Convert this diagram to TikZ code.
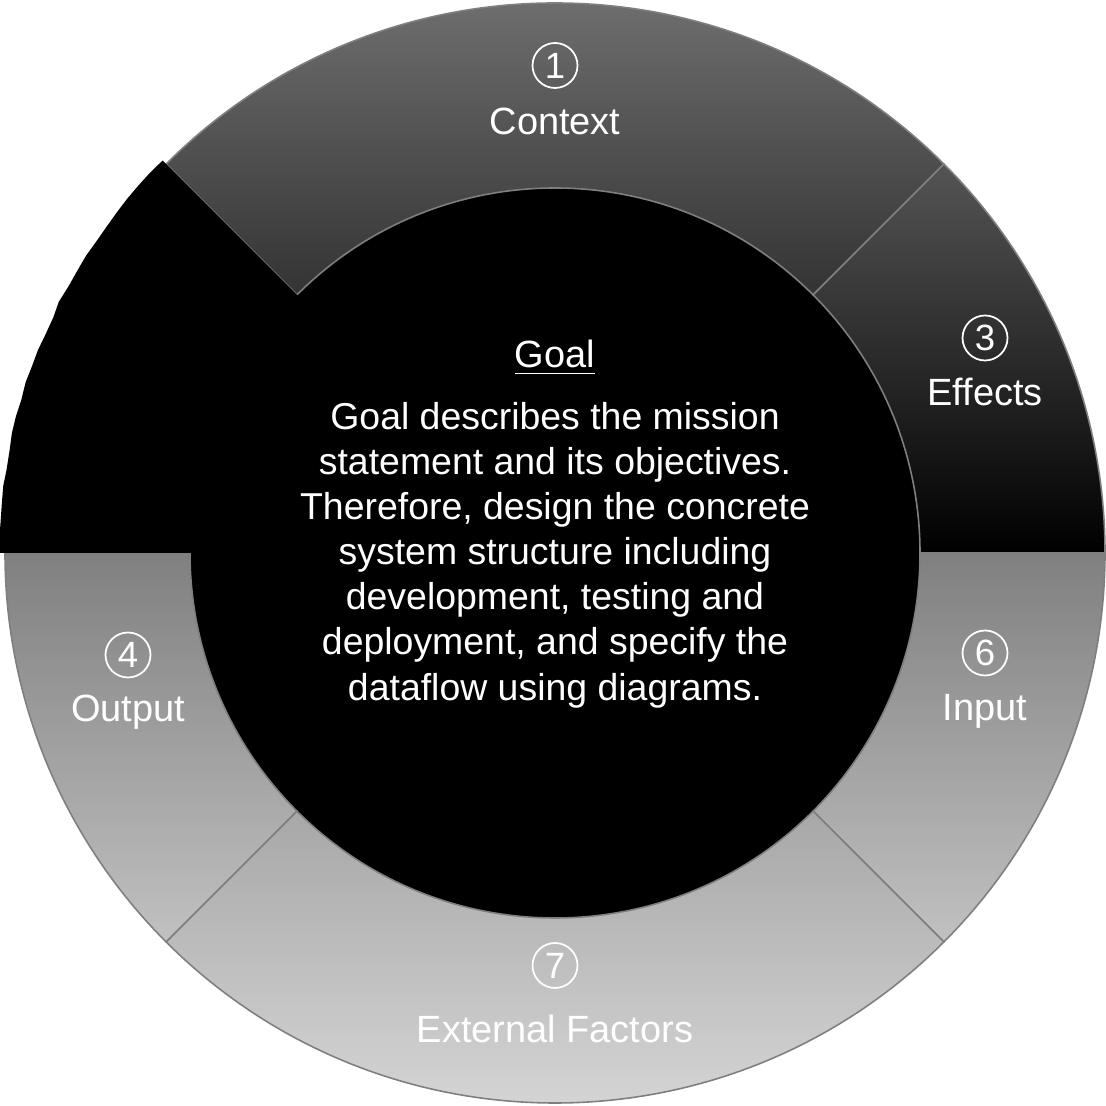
\documentclass[tikz,border=0pt]{standalone}
\usepackage{fontspec}
\setmainfont{Liberation Sans}
\usepackage{xcolor}
\usepackage{tikz}
\usetikzlibrary{calc, decorations.pathmorphing}
\definecolor{ringtop}{HTML}{787878}
\definecolor{ringmid}{HTML}{808080}
\definecolor{ringbottom}{HTML}{DCDCDC}
\definecolor{segline}{HTML}{7F7F7F}
\tikzset{
  upperseg/.style={
    draw=segline,
    line width=0.45pt,
    path picture={\shade[top color=ringtop, bottom color=black] (0,5.53) rectangle (11.06,11.06);}
  },
  lowerseg/.style={
    draw=segline,
    line width=0.45pt,
    path picture={\shade[top color=ringmid, bottom color=ringbottom] (0,0) rectangle (11.06,5.53);}
  },
  caption/.style={
    text=white,
    font=\fontsize{10.8}{12.85}\selectfont,
    anchor=base,
    inner sep=0pt
  },
  number/.style={
    circle,
    draw=white,
    line width=0.5pt,
    minimum size=0.45cm,
    inner sep=0pt,
    text=white,
    font=\fontsize{10.4}{12}\selectfont
  }
}

\begin{document}
\begin{tikzpicture}

  \useasboundingbox (0,0) rectangle (11.06,11.06);
  \coordinate (C) at (5.55,5.53);

  % GOAL DISC
  \fill[black] (C) circle[radius=3.65];

  % UPPER RING
  \path[upperseg] ([shift={(45:5.5)}]C) arc[start angle=45, end angle=135, radius=5.5]
    -- ([shift={(135:3.65)}]C) arc[start angle=135, end angle=45, radius=3.65] -- cycle;
  \path[upperseg] ([shift={(0:5.5)}]C) arc[start angle=0, end angle=45, radius=5.5]
    -- ([shift={(45:3.65)}]C) arc[start angle=45, end angle=0, radius=3.65] -- cycle;

  % LOWER RING
  \path[lowerseg] ([shift={(-45:5.5)}]C) arc[start angle=-45, end angle=0, radius=5.5]
    -- ([shift={(0:3.65)}]C) arc[start angle=0, end angle=-45, radius=3.65] -- cycle;
  \path[lowerseg] ([shift={(-135:5.5)}]C) arc[start angle=-135, end angle=-45, radius=5.5]
    -- ([shift={(-45:3.65)}]C) arc[start angle=-45, end angle=-135, radius=3.65] -- cycle;
  \path[lowerseg] ([shift={(180:5.5)}]C) arc[start angle=180, end angle=225, radius=5.5]
    -- ([shift={(225:3.65)}]C) arc[start angle=225, end angle=180, radius=3.65] -- cycle;

  % BLACK WEDGE
  \fill[black] ([shift={(135:5.55)}]C)
    decorate[decoration={random steps, segment length=5pt, amplitude=0.3pt}] {arc[start angle=135, end angle=180, radius=5.55]}
    -- ([shift={(180:3.6)}]C) arc[start angle=180, end angle=135, radius=3.6] -- cycle;

  % SEGMENT LABELS
  \node (N1) [number] at (5.55,10.405) {1};
  \node (L1) [caption] at (5.55,9.71) {Context};
  \node (N3) [number] at (9.85,7.68) {3};
  \node (L3) [caption] at (9.85,7.00) {Effects};
  \node (N6) [number] at (9.85,4.53) {6};
  \node (L6) [caption] at (9.85,3.85) {Input};
  \node (N4) [number] at (1.28,4.51) {4};
  \node (L4) [caption] at (1.28,3.84) {Output};
  \node (N7) [number] at (5.55,1.405) {7};
  \node (L7) [caption] at (5.55,0.63) {External Factors};

  % GOAL TEXT
  \node (G_title) [caption] at (5.55,7.38) {\underline{Goal}};
  \node (G_text) [caption, anchor=center, align=center, font=\fontsize{10.65}{12.85}\selectfont] at (5.55,5.51) {Goal describes the mission\\statement and its objectives.\\Therefore, design the concrete\\system structure including\\development, testing and\\deployment, and specify the\\dataflow using diagrams.};

\end{tikzpicture}
\end{document}
